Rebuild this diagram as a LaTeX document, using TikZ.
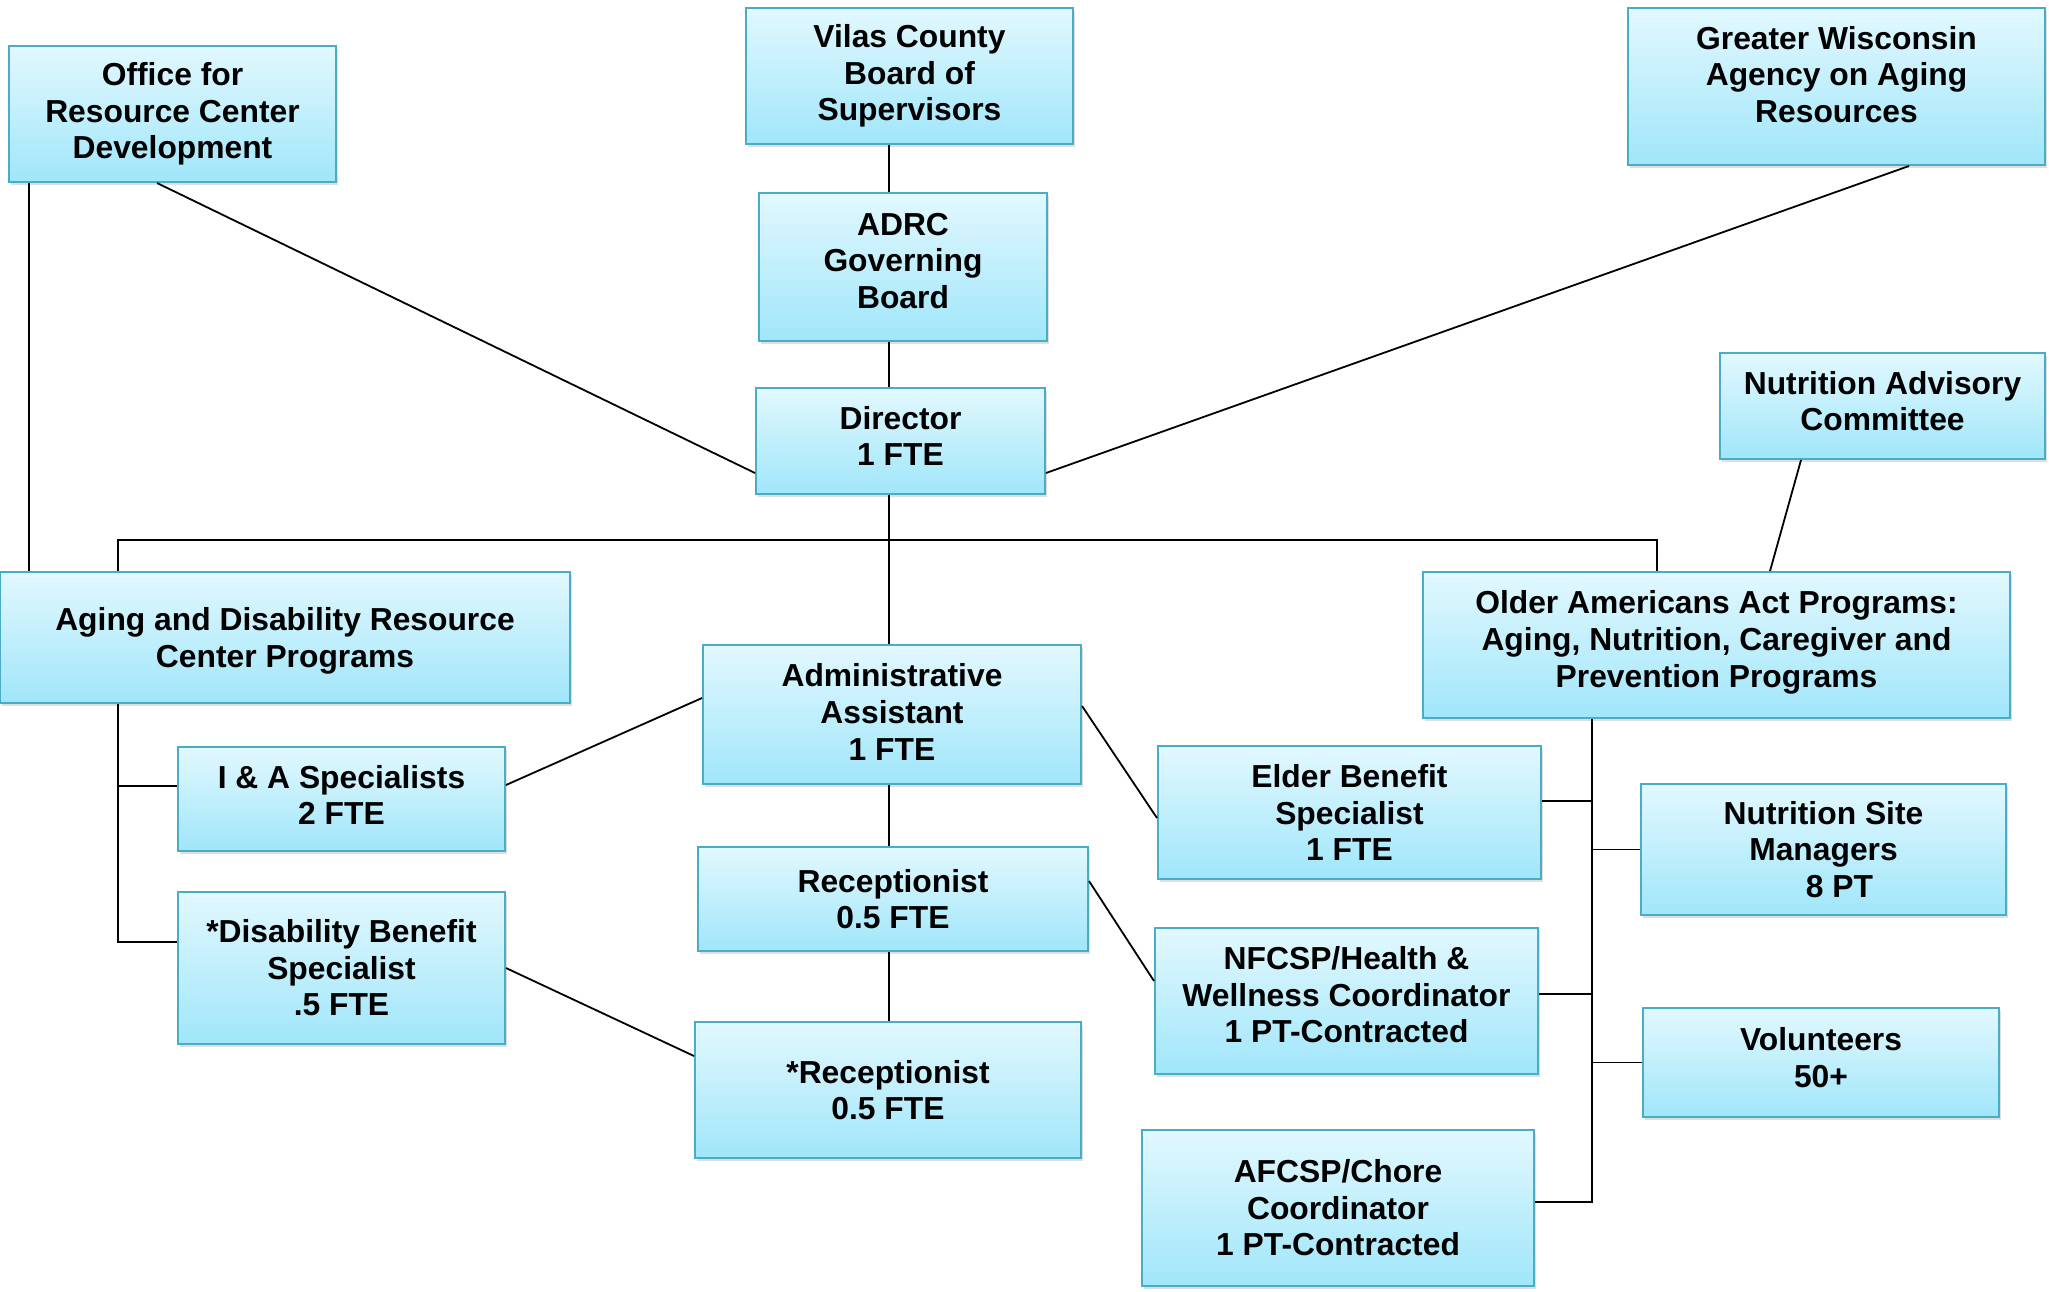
\documentclass[tikz,border=0pt]{standalone}
\usepackage{fontspec}
\setmainfont{Liberation Sans}
\usepackage{xcolor}
\usetikzlibrary{shadows}
\definecolor{boxtop}{RGB}{226,248,254}
\definecolor{boxbot}{RGB}{160,230,250}
\definecolor{boxline}{RGB}{75,172,198}

\begin{document}
\begin{tikzpicture}[
  x=1pt, y=-1pt,
  font=\fontsize{31.8}{36.6}\selectfont\bfseries,
  block/.style={draw=boxline, line width=2pt, top color=boxtop, bottom color=boxbot, align=center, inner sep=0pt,
    drop shadow={shadow xshift=2pt, shadow yshift=-3pt, opacity=0.25}},
  boxsize/.style 2 args={minimum width=#1pt, minimum height=#2pt},
  lift/.style={text depth=#1pt},
  line/.style={line width=1.8pt, black}
]
\useasboundingbox (0,0) rectangle (2049,1291);

% Row 1: Oversight
\node[block, boxsize={327}{136}] (office) at (172.5,114) {Office for\\Resource Center\\Development};
\node[block, boxsize={327}{136}] (vilas) at (909.5,76) {Vilas County\\Board of\\Supervisors};
\node[block, boxsize={417}{157}, lift=24.5] (gwaar) at (1836.5,86.5) {Greater Wisconsin\\Agency on Aging\\Resources};

% Row 2: Board and Director
\node[block, boxsize={288}{148}, lift=13] (adrc) at (903,267) {ADRC\\Governing\\Board};
\node[block, boxsize={289}{106}, lift=10.4] (director) at (900.5,441) {Director\\1 FTE};
\node[block, boxsize={325}{106}, lift=10.4] (nac) at (1882.5,406) {Nutrition Advisory\\Committee};

% Row 3: Programs
\node[block, boxsize={570}{131}, lift=0] (adrcprog) at (285,637.5) {Aging and Disability Resource\\Center Programs};
\node[block, boxsize={587}{146}, lift=12] (oaa) at (1716.5,645) {Older Americans Act Programs:\\Aging, Nutrition, Caregiver and\\Prevention Programs};

% Staff: centre column
\node[block, boxsize={378}{139}, lift=5.2] (admin) at (892,714.5) {Administrative\\Assistant\\1 FTE};
\node[block, boxsize={390}{104}] (recep) at (893,899) {Receptionist\\0.5 FTE};
\node[block, boxsize={386}{136}] (recep2) at (888,1090) {*Receptionist\\0.5 FTE};

% Staff: ADRC side
\node[block, boxsize={327}{104}, lift=7.8] (ia) at (341.5,799) {I \& A Specialists\\2 FTE};
\node[block, boxsize={327}{152}] (dbs) at (341.5,968) {*Disability Benefit\\Specialist\\.5 FTE};

% Staff: OAA side
\node[block, boxsize={383}{133}] (ebs) at (1349.5,812.5) {Elder Benefit\\Specialist\\1 FTE};
\node[block, boxsize={383}{146}, lift=13] (nfcsp) at (1346.5,1001) {NFCSP/Health \&\\Wellness Coordinator\\1 PT-Contracted};
\node[block, boxsize={392}{156}] (afcsp) at (1338,1208) {AFCSP/Chore\\Coordinator\\1 PT-Contracted};
\node[block, boxsize={365}{131}] (nsm) at (1823.5,849.5) {Nutrition Site\\Managers\\\hspace*{32pt}8 PT};
\node[block, boxsize={356}{109}, lift=10.4] (vol) at (1821,1062.5) {Volunteers\\50+};

% Helper coordinates
\coordinate (spine) at (889,0);
\coordinate (oL) at (29,0);
\coordinate (bL) at (118,540);
\coordinate (bR) at (1657,540);
\coordinate (oaaS) at (1592,0);

% Connections
\draw[line] (vilas.south -| spine) -- (adrc.north -| spine);
\draw[line] (adrc.south -| spine) -- (director.north -| spine);
\draw[line] (director.south -| spine) -- (admin.north -| spine);
\draw[line] (admin.south -| spine) -- (recep.north -| spine);
\draw[line] (recep.south -| spine) -- (recep2.north -| spine);
\draw[line] (adrcprog.north -| bL) |- (bR) -- (oaa.north -| bR);
\draw[line] (office.south -| oL) -- (adrcprog.north -| oL);
\draw[line] ([xshift=-15.5pt]office.south) -- ([yshift=-32pt]director.west);
\draw[line] ([xshift=72.5pt]gwaar.south) -- ([yshift=-32pt]director.east);
\draw[line] ([xshift=-81.5pt]nac.south) -- ([xshift=53.5pt]oaa.north);

% ADRC branch
\path ([yshift=13pt]ia.west) coordinate (iaW);
\draw[line] (adrcprog.south -| bL) |- ([yshift=26pt]dbs.west);
\draw[line] (iaW -| bL) -- (iaW);
\draw[line] ([yshift=14pt]ia.east) -- ([yshift=16.5pt]admin.west);
\draw[line] (dbs.east) -- ([yshift=34pt]recep2.west);

% OAA branch
\path ([yshift=11.5pt]ebs.east) coordinate (ebsE) ([yshift=7pt]nfcsp.east) coordinate (nfE);
\draw[line] (oaa.south -| oaaS) |- ([yshift=6pt]afcsp.east);
\draw[line] (ebsE) -- (ebsE -| oaaS);
\draw[line] (nfE) -- (nfE -| oaaS);
\draw[line] (nsm.west -| oaaS) -- (nsm.west);
\draw[line] (vol.west -| oaaS) -- (vol.west);
\draw[line] ([yshift=8.5pt]admin.east) -- ([yshift=-5.5pt]ebs.west);
\draw[line] ([yshift=18pt]recep.east) -- ([yshift=20pt]nfcsp.west);

\end{tikzpicture}
\end{document}
